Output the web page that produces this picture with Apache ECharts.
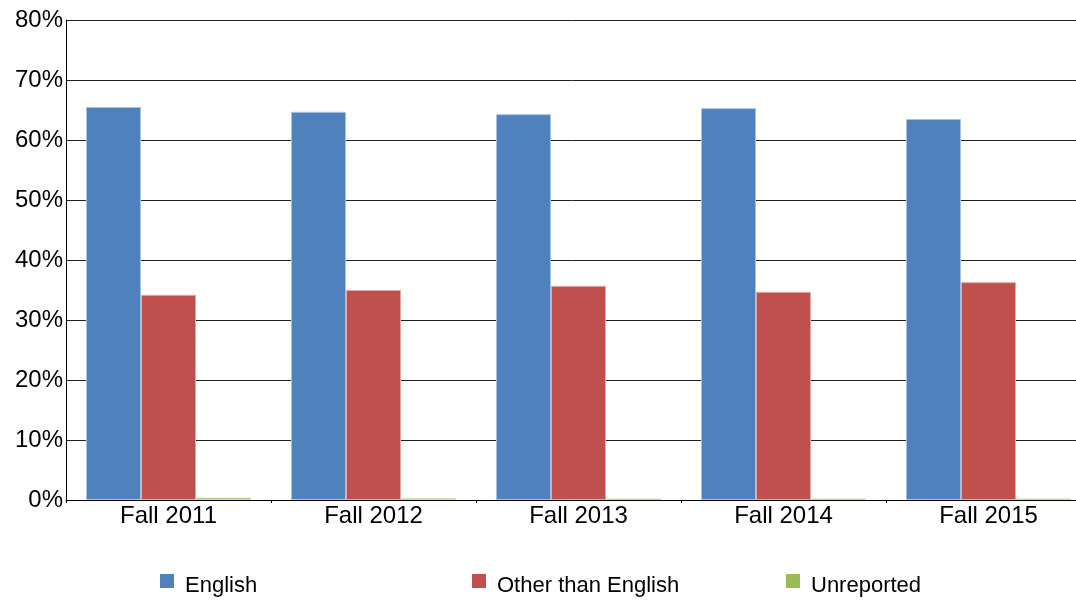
<!DOCTYPE html>
<html>
<head>
<meta charset="utf-8">
<script src="https://cdn.jsdelivr.net/npm/echarts@6/dist/echarts.min.js"></script>
<style>
  html, body { margin: 0; padding: 0; background: #fff; }
  #chart { width: 1076px; height: 600px; }
</style>
</head>
<body>
<div id="chart"></div>
<script>
  const terms = ['Fall 2011', 'Fall 2012', 'Fall 2013', 'Fall 2014', 'Fall 2015']
  const english = [65.5, 64.7, 64.3, 65.3, 63.5]
  const otherLang = [34.2, 35.0, 35.7, 34.7, 36.3]
  const unreported = [0.4, 0.3, 0.25, 0.25, 0.25]

  const chart = echarts.init(document.getElementById('chart'))
  const font = 'Liberation Sans, Arial, sans-serif'

  // 三个图例分开放，文字比色块略低
  const legendBase = {
    top: 569,
    itemWidth: 14,
    itemHeight: 14,
    icon: 'rect',
    itemStyle: { borderWidth: 0 },
    formatter: '{t|{name}}',
    textStyle: {
      rich: {
        t: { fontFamily: font, fontSize: 22, color: '#000', padding: [10, 0, 0, 6] },
      },
    },
  }

  chart.setOption({
    animation: false,
    legend: [
      { ...legendBase, left: 155, data: ['English'] },
      { ...legendBase, left: 467, data: ['Other than English'] },
      { ...legendBase, left: 781, data: ['Unreported'] },
    ],
    // 最后一个分类在画布外被裁掉，所以 grid 要超出右边
    grid: { left: 66, top: 20, right: -15, bottom: 100, containLabel: false, outerBoundsMode: 'none' },
    xAxis: {
      type: 'category',
      data: terms,
      axisLine: { lineStyle: { color: '#000', width: 1 } },
      axisTick: { show: true, length: 3, lineStyle: { color: '#000' } },
      axisLabel: { fontFamily: font, fontSize: 24, color: '#000', margin: 4 },
    },
    yAxis: {
      type: 'value',
      min: 0,
      max: 80,
      interval: 10,
      axisLine: { show: true, lineStyle: { color: '#000', width: 1 } },
      axisTick: { show: false },
      splitLine: { lineStyle: { color: '#222', width: 1 } },
      axisLabel: {
        fontFamily: font, fontSize: 24, color: '#000', margin: 3,
        formatter: '{value}%',
      },
    },
    series: [
      {
        name: 'English', type: 'bar', data: english,
        barWidth: 55, barGap: '0%',
        itemStyle: { color: '#4F81BD', borderColor: '#A9C1E0', borderWidth: 1 },
      },
      {
        name: 'Other than English', type: 'bar', data: otherLang,
        barWidth: 55,
        itemStyle: { color: '#C0504D', borderColor: '#E3A8A6', borderWidth: 1 },
      },
      {
        name: 'Unreported', type: 'bar', data: unreported,
        barWidth: 55,
        itemStyle: { color: '#9BBB59', borderColor: '#CADDA8', borderWidth: 1 },
      },
    ],
  })
</script>
</body>
</html>
